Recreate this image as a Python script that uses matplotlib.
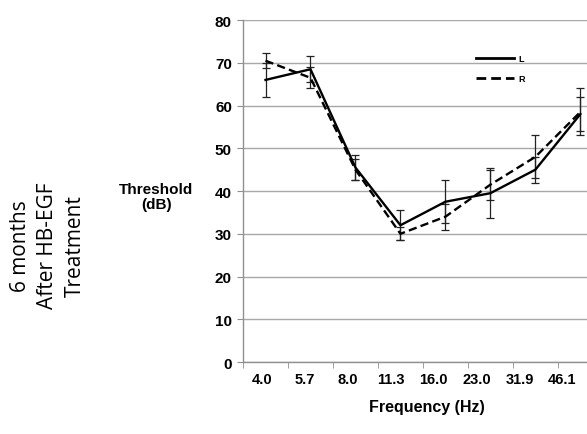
import numpy as np
import matplotlib.pyplot as plt
from matplotlib.lines import Line2D

freqs = ["4.0", "5.7", "8.0", "11.3", "16.0", "23.0", "31.9", "46.1"]
left_db = [66.0, 68.5, 45.5, 32.0, 37.5, 39.5, 45.0, 58.0]
left_err = [4.0, 3.0, 3.0, 3.5, 5.0, 5.8, 3.0, 4.0]
right_db = [70.5, 66.5, 45.0, 30.0, 34.0, 41.5, 48.0, 58.5]
right_err = [1.8, 2.5, 2.5, 1.5, 3.0, 3.5, 5.0, 5.5]

plt.rcParams["font.family"] = ["Liberation Sans", "DejaVu Sans"]

fig = plt.figure(figsize=(5.87, 4.35), dpi=100)
ax = fig.add_axes([0.414, 0.1655, 0.613, 0.786])

x = np.arange(len(freqs))
dash = (0, (3.5, 1.8))
ax.errorbar(x, left_db, yerr=left_err, color="black", lw=1.7, ls="-",
            ecolor="#222222", elinewidth=0.9, capsize=3, capthick=0.9, zorder=3)
ax.errorbar(x, right_db, yerr=right_err, color="black", lw=1.7, ls=dash,
            ecolor="#222222", elinewidth=0.9, capsize=3, capthick=0.9, zorder=3)

ax.set_xlim(-0.5, 7.5)
ax.set_ylim(0, 80)
ax.set_yticks(range(0, 81, 10))
ax.yaxis.grid(True, color="#a8a8a8", lw=1.0)
ax.set_axisbelow(True)
# category labels in the source sit slightly left of the data points
ax.set_xticks(x * 0.953 - 0.07)
ax.set_xticklabels(freqs)
ax.set_xticks(np.arange(-0.5, 7.6, 1), minor=True)
ax.tick_params(axis="x", which="major", length=0, pad=7, labelsize=10.5)
ax.tick_params(axis="x", which="minor", length=4, color="#909090")
ax.tick_params(axis="y", length=4, color="#909090", labelsize=11, pad=4)
for lab in ax.get_xticklabels() + ax.get_yticklabels():
    lab.set_fontweight("bold")

for s in ["top", "right"]:
    ax.spines[s].set_visible(False)
for s in ["left", "bottom"]:
    ax.spines[s].set_color("#909090")
    ax.spines[s].set_linewidth(1.0)

fig.text(0.727, 0.064, "Frequency (Hz)", ha="center", va="center",
         fontsize=11.5, fontweight="bold")
fig.text(0.266, 0.545, "Threshold\n(dB)", ha="center", va="center",
         fontsize=11, fontweight="bold", linespacing=1.1)
fig.text(0.081, 0.434, "6 months\nAfter HB-EGF\nTreatment", ha="center", va="center",
         rotation=90, fontsize=15, family=["Open Sans", "DejaVu Sans"],
         linespacing=1.4)

handles = [Line2D([0], [0], color="black", lw=2.0, ls="-"),
           Line2D([0], [0], color="black", lw=2.0, ls=dash)]
ax.legend(handles, ["L", "R"], loc="upper left", bbox_to_anchor=(0.625, 0.925),
          frameon=False, handlelength=4.2, handletextpad=0.5,
          prop={"size": 6.5, "weight": "bold"}, labelspacing=1.2)

fig.savefig("out.png", dpi=100)
